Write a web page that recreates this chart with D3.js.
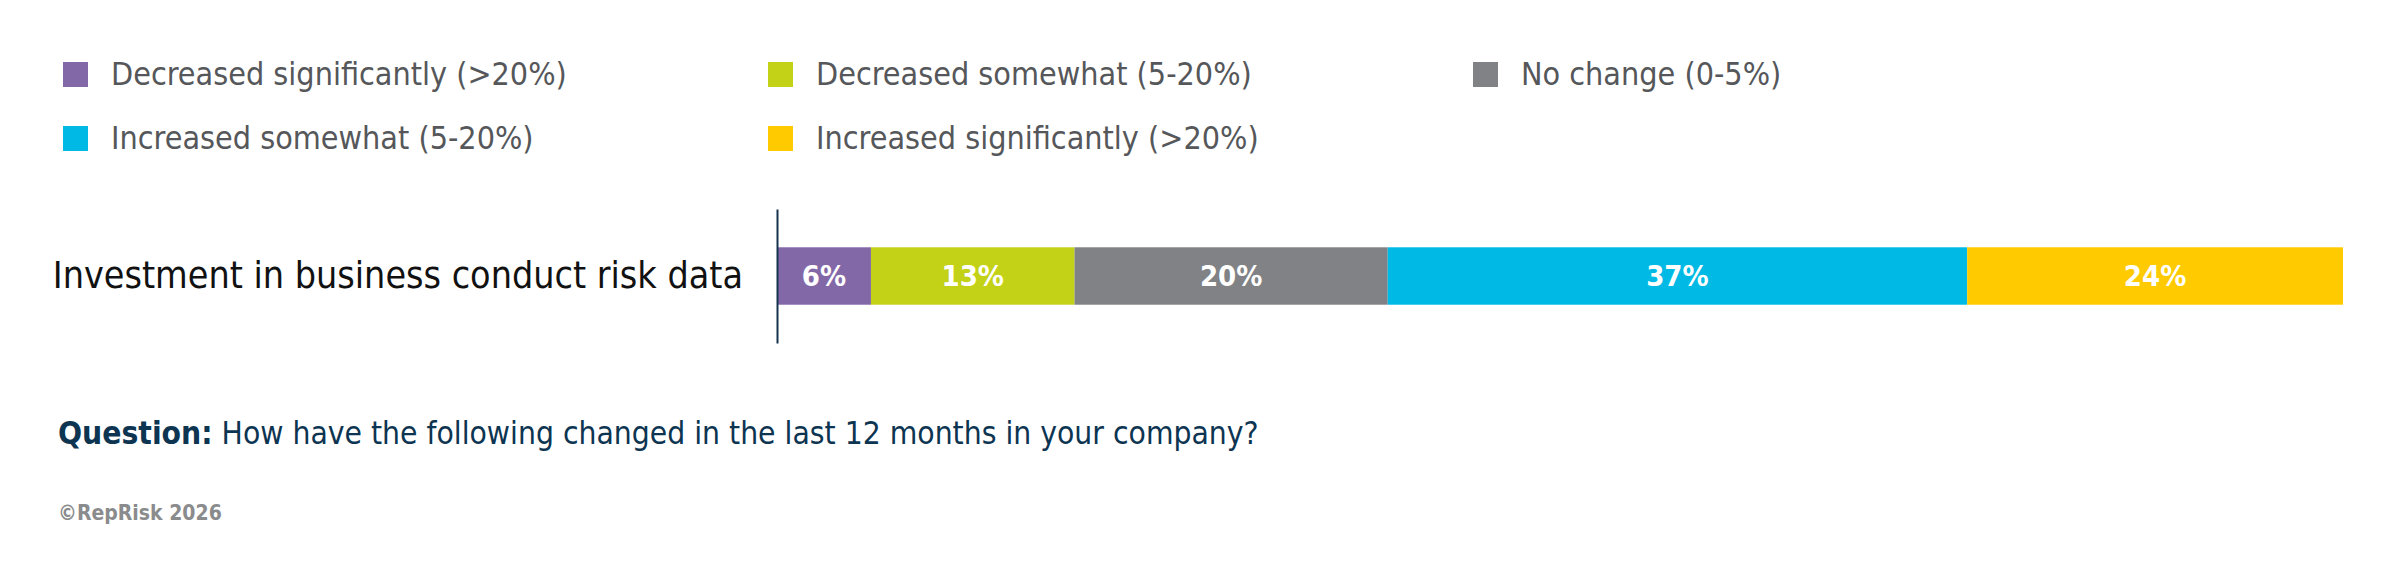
<!DOCTYPE html>
<html>
<head>
<meta charset="utf-8">
<script src="https://cdn.jsdelivr.net/npm/d3@7"></script>
<style>
  body { margin: 0; background: #fff; }
  text { font-family: "Liberation Sans Narrow", "DejaVu Sans Condensed", "Liberation Sans", sans-serif; }
</style>
</head>
<body>
<div id="chart"></div>
<script>
const WIDTH = 2400, HEIGHT = 578;

// data
const categories = ["Investment in business conduct risk data"];
const seriesNames = [
    "Decreased significantly (>20%)",
    "Decreased somewhat (5-20%)",
    "No change (0-5%)",
    "Increased somewhat (5-20%)",
    "Increased significantly (>20%)"
];
const seriesColors = ["#8368a8", "#c3d217", "#808285", "#00b9e4", "#ffcb00"];
const seriesValues = [6, 13, 20, 37, 24];
const questionLabel = "Question:";
const questionText = "How have the following changed in the last 12 months in your company?";
const creditText = "\u00a9RepRisk 2026";

const svg = d3.select("#chart")
    .append("svg")
    .attr("width", WIDTH)
    .attr("height", HEIGHT);

// scales
const x = d3.scaleLinear()
    .domain([0, 100])
    .range([777, 2343]);
const y = d3.scaleBand()
    .domain(categories)
    .range([209, 343])
    .padding(0.4);

// legend
const legend = svg.append("g").attr("class", "legend");
const legendItem = legend.selectAll("g")
    .data(seriesNames)
    .join("g")
    .attr("transform", (d, i) => "translate(" + (63 + (i % 3) * 705) + "," + (74 + Math.floor(i / 3) * 64) + ")");
legendItem.append("rect")
    .attr("x", 0)
    .attr("y", -12)
    .attr("width", 25)
    .attr("height", 25)
    .attr("fill", (d, i) => seriesColors[i]);
legendItem.append("text")
    .attr("x", 48)
    .attr("y", 11)
    .attr("fill", "#55575a")
    .style("font-size", "32px")
    .text(d => d);

// stacked segments
const starts = seriesValues.map((v, i) => d3.sum(seriesValues.slice(0, i)));
svg.append("g")
    .selectAll("rect")
    .data(seriesValues)
    .join("rect")
    .attr("x", (d, i) => x(starts[i]))
    .attr("y", y(categories[0]))
    .attr("width", (d, i) => x(starts[i] + d) - x(starts[i]))
    .attr("height", y.bandwidth())
    .attr("fill", (d, i) => seriesColors[i]);

svg.append("g")
    .selectAll("text")
    .data(seriesValues)
    .join("text")
    .attr("x", (d, i) => x(starts[i] + d / 2))
    .attr("y", y(categories[0]) + y.bandwidth() / 2)
    .attr("dy", "0.36em")
    .attr("text-anchor", "middle")
    .attr("fill", "#fff")
    .style("font-size", "29px")
    .style("font-weight", "bold")
    .text(d => d + "%");

// category axis
const yAxis = svg.append("g")
    .attr("class", "yaxis")
    .attr("transform", "translate(" + x(0) + ",0)")
    .call(d3.axisLeft(y).tickSize(0).tickPadding(34));
yAxis.select(".domain")
    .attr("stroke", "#15334c")
    .attr("stroke-width", 2);
yAxis.selectAll("text")
    .attr("fill", "#111")
    .style("font-size", "37.3px");

// footer
const q = svg.append("text")
    .attr("x", 58)
    .attr("y", 444)
    .attr("fill", "#0d3552")
    .style("font-size", "31.5px");
q.append("tspan").style("font-weight", "bold").text(questionLabel);
q.append("tspan").text(" " + questionText);

svg.append("text")
    .attr("x", 58)
    .attr("y", 520)
    .attr("fill", "#8a8b8d")
    .style("font-size", "21px")
    .style("font-weight", "bold")
    .text(creditText);
</script>
</body>
</html>
